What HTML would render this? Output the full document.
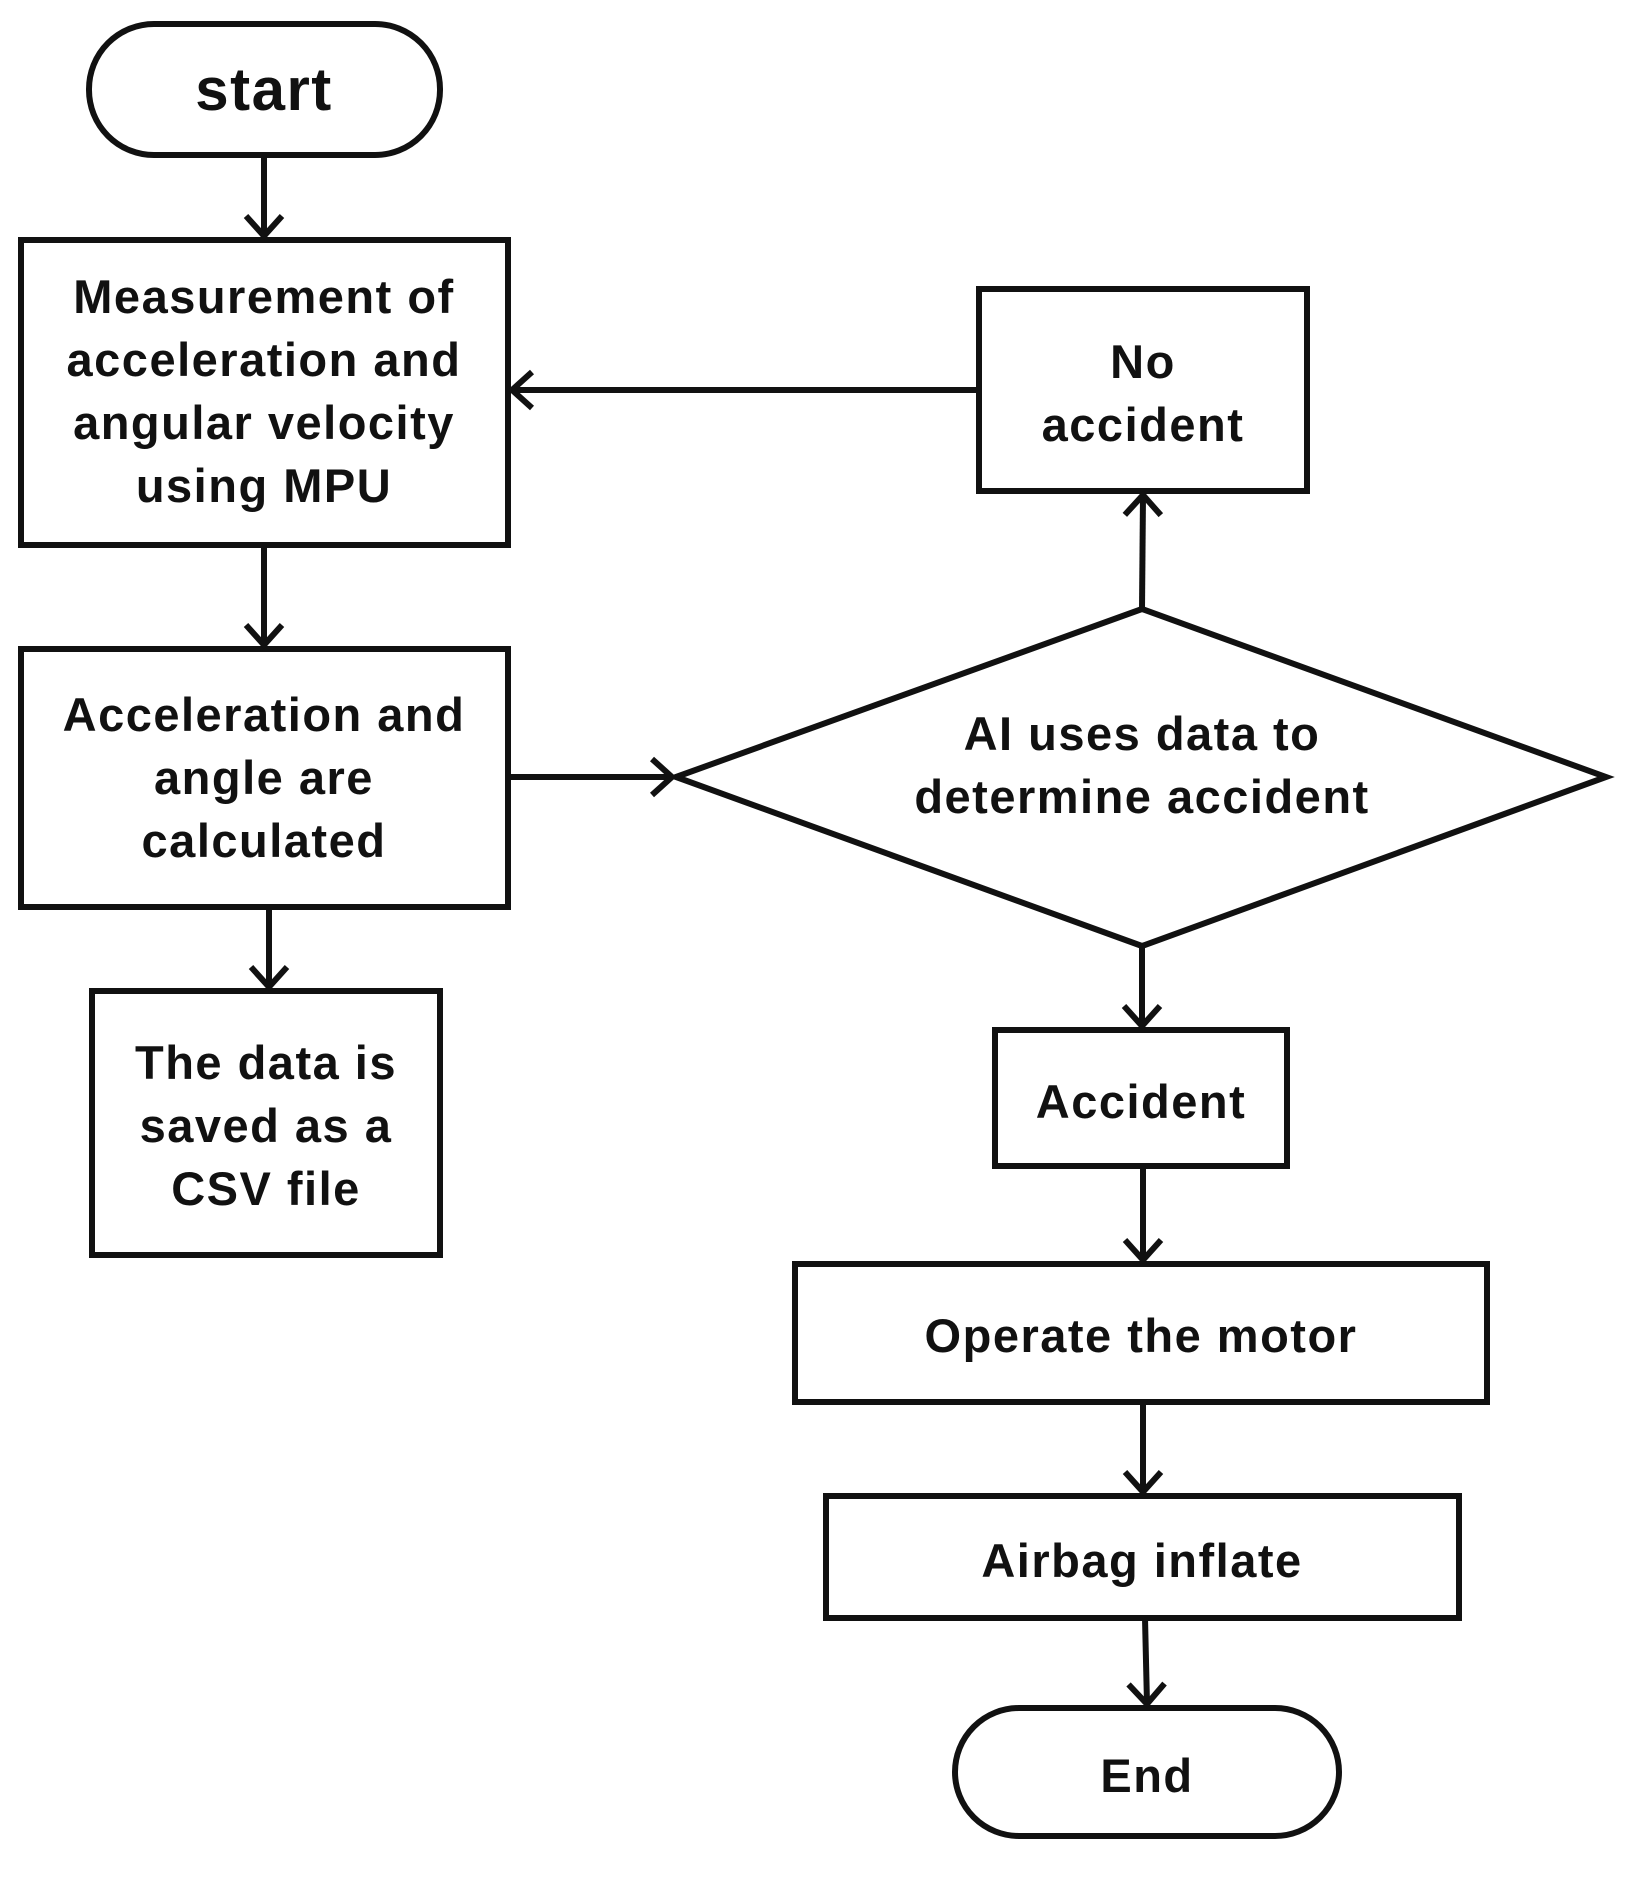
<!DOCTYPE html>
<html><head><style>html,body{margin:0;padding:0;background:#fff}</style></head><body>
<svg width="1625" height="1874" viewBox="0 0 1625 1874" xmlns="http://www.w3.org/2000/svg">
<defs>
<marker id="v" viewBox="0 0 48 48" refX="44" refY="24" markerWidth="48" markerHeight="48" orient="auto" markerUnits="userSpaceOnUse"><path d="M24,6 L44,24 L24,42" fill="none" stroke="#111" stroke-width="6"/></marker></defs>
<g fill="none" stroke="#111" stroke-width="6">
<rect x="89" y="24" width="351" height="131" rx="65"/>
<rect x="21" y="240" width="487" height="305"/>
<rect x="21" y="649" width="487" height="258"/>
<rect x="92" y="991" width="348" height="264"/>
<rect x="979" y="289" width="328" height="202"/>
<polygon points="676,777 1142,609 1606,777 1142,946"/>
<rect x="995" y="1030" width="292" height="136"/>
<rect x="795" y="1264" width="692" height="138"/>
<rect x="826" y="1496" width="633" height="122"/>
<rect x="955" y="1708" width="384" height="128" rx="64"/>
<g marker-end="url(#v)">
<line x1="264" y1="155" x2="264" y2="236"/>
<line x1="264" y1="545" x2="264" y2="645"/>
<line x1="269" y1="907" x2="269" y2="987"/>
<line x1="508" y1="777" x2="672" y2="777"/>
<line x1="1142" y1="609" x2="1143" y2="495"/>
<line x1="979" y1="390" x2="512" y2="390"/>
<line x1="1142" y1="946" x2="1142" y2="1026"/>
<line x1="1143" y1="1166" x2="1143" y2="1260"/>
<line x1="1143" y1="1402" x2="1143" y2="1492"/>
<line x1="1145" y1="1618" x2="1147" y2="1704"/>
</g></g>
<g font-family="'Liberation Sans',sans-serif" font-weight="bold" fill="#111" text-anchor="middle" font-size="47" letter-spacing="1.5">
<text x="264" y="110" font-size="60">start</text>
<text x="264" y="313">Measurement of</text>
<text x="264" y="376">acceleration and</text>
<text x="264" y="439">angular velocity</text>
<text x="264" y="502">using MPU</text>
<text x="264" y="731">Acceleration and</text>
<text x="264" y="794">angle are</text>
<text x="264" y="857">calculated</text>
<text x="266" y="1079">The data is</text>
<text x="266" y="1142">saved as a</text>
<text x="266" y="1205">CSV file</text>
<text x="1143" y="378">No</text>
<text x="1143" y="441">accident</text>
<text x="1142" y="750">AI uses data to</text>
<text x="1142" y="813">determine accident</text>
<text x="1141" y="1118">Accident</text>
<text x="1141" y="1352">Operate the motor</text>
<text x="1142" y="1577">Airbag inflate</text>
<text x="1147" y="1792">End</text>
</g>
</svg>
</body></html>
